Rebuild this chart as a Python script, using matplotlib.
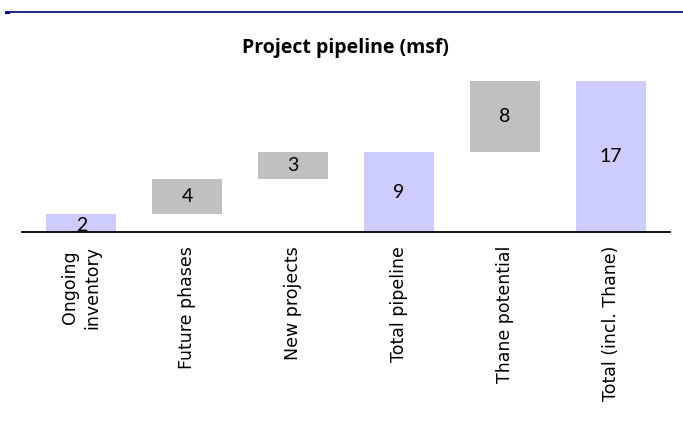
import numpy as np
import matplotlib.pyplot as plt
from matplotlib.lines import Line2D

categories = ['Ongoing\ninventory', 'Future phases', 'New projects',
              'Total pipeline', 'Thane potential', 'Total (incl. Thane)']
values = [2, 4, 3, 9, 8, 17]
bottoms = [0, 2, 6, 0, 9, 0]
is_total = [True, False, False, True, False, True]

fig = plt.figure(figsize=(6.83, 4.29), dpi=100)
fig.set_facecolor('w')
ax = fig.add_axes([22 / 683, 1 - 232 / 429, 648 / 683, 182 / 429])

x = np.arange(len(values))
colors = ['#ccccff' if t else '#c0c0c0' for t in is_total]
ax.bar(x, values, bottom=bottoms, width=0.66, color=colors, edgecolor='none')

for xi, v, b in zip(x, values, bottoms):
    yc = b + v / 2 if v > 2 else b + v / 2 - 0.3
    ax.text(xi, yc, str(v), ha='center', va='center', fontsize=14,
            family='Lato', color='black')

ax.set_xlim(-0.56, 5.56)
ax.set_ylim(0, 20.5)
ax.set_xticks(x)
ax.set_xticklabels(categories, rotation=90, fontsize=12.5, va='top', ha='center',
                   linespacing=1.35)
ax.tick_params(axis='x', length=0, pad=10)
ax.set_yticks([])
for s in ['top', 'right', 'left']:
    ax.spines[s].set_visible(False)
ax.spines['bottom'].set_linewidth(1.3)

fig.text(345 / 683, 1 - 48 / 429, 'Project pipeline (msf)', ha='center',
         va='center', fontsize=14, fontweight='bold', family='Open Sans')

# header rule
fig.add_artist(Line2D([6 / 683, 1], [1 - 11.5 / 429] * 2, color='#000080',
                      lw=1.2, transform=fig.transFigure))
fig.add_artist(Line2D([6 / 683, 9 / 683], [1 - 13 / 429] * 2, color='#000080',
                      lw=1.5, transform=fig.transFigure))

fig.savefig('out.png', dpi=100)
